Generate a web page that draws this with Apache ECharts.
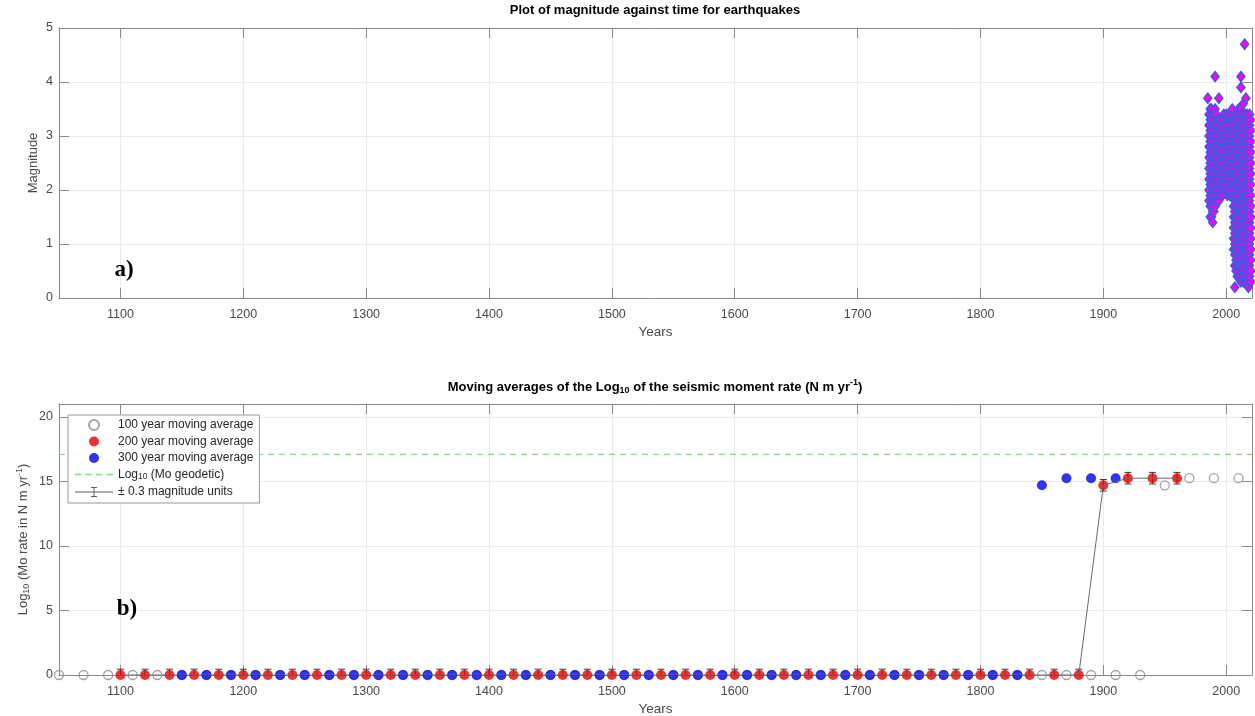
<!DOCTYPE html>
<html>
<head>
<meta charset="utf-8">
<script src="https://cdn.jsdelivr.net/npm/echarts@6/dist/echarts.min.js"></script>
<style>
  html, body { margin: 0; padding: 0; background: #ffffff; }
  #chart { width: 1255px; height: 716px; }
</style>
</head>
<body>
<div id="chart"></div>
<script>
// ---- Earthquake catalogue: magnitudes recorded in each year ----
const quakeYears = [
  1985, 1986, 1987, 1988, 1989, 1990, 1991, 1992, 1993, 1994, 1995, 1996, 1997, 1998, 1999,
  2000, 2001, 2002, 2003, 2004, 2005, 2006, 2007, 2008, 2009, 2010, 2011, 2012, 2013, 2014,
  2015, 2016, 2017, 2018, 2019, 2020
];
const quakeMags = [
  [3.7],
  [1.8, 2.0, 2.2, 2.4, 2.6, 2.8, 3.0, 3.2, 3.4],
  [1.5, 1.7, 1.9, 2.1, 2.3, 2.5, 2.7, 2.9, 3.1, 3.3, 3.5],
  [1.5, 1.7, 1.9, 2.1, 2.3, 2.5, 2.7, 2.9, 3.1, 3.3, 3.5],
  [1.4, 1.6, 1.8, 2.0, 2.2, 2.4, 2.6, 2.8, 3.0, 3.2, 3.4],
  [1.6, 1.8, 2.0, 2.2, 2.4, 2.6, 2.8, 3.0, 3.2, 3.4],
  [1.7, 1.9, 2.1, 2.3, 2.5, 2.7, 2.9, 3.1, 3.3, 3.5, 4.1],
  [1.8, 2.0, 2.2, 2.4, 2.6, 2.8, 3.0, 3.2, 3.4],
  [1.9, 2.1, 2.3, 2.5, 2.7, 2.9, 3.1, 3.3],
  [1.8, 2.0, 2.2, 2.4, 2.6, 2.8, 3.0, 3.2, 3.7],
  [1.9, 2.1, 2.3, 2.5, 2.7, 2.9, 3.1, 3.3],
  [2.0, 2.2, 2.4, 2.6, 2.8, 3.0, 3.2],
  [1.9, 2.1, 2.3, 2.5, 2.7, 2.9, 3.1, 3.3],
  [2.0, 2.2, 2.4, 2.6, 2.8, 3.0, 3.2, 3.4],
  [2.1, 2.3, 2.5, 2.7, 2.9, 3.1, 3.3],
  [2.0, 2.2, 2.4, 2.6, 2.8, 3.0, 3.2, 3.4],
  [1.9, 2.1, 2.3, 2.5, 2.7, 2.9, 3.1, 3.3],
  [2.0, 2.2, 2.4, 2.6, 2.8, 3.0, 3.2, 3.4],
  [1.9, 2.1, 2.3, 2.5, 2.7, 2.9, 3.1, 3.3],
  [2.0, 2.2, 2.4, 2.6, 2.8, 3.0, 3.2, 3.4],
  [1.9, 2.1, 2.3, 2.5, 2.7, 2.9, 3.1, 3.3, 3.5],
  [0.9, 1.1, 1.3, 1.5, 1.7, 1.9, 2.1, 2.3, 2.5, 2.7, 2.9, 3.1, 3.3],
  [0.2, 0.6, 0.8, 1.0, 1.2, 1.4, 1.6, 1.8, 2.0, 2.2, 2.4, 2.6, 2.8, 3.0, 3.2, 3.4],
  [0.5, 0.7, 0.9, 1.1, 1.3, 1.5, 1.7, 1.9, 2.1, 2.3, 2.5, 2.7, 2.9, 3.1, 3.3],
  [0.4, 0.6, 0.8, 1.0, 1.2, 1.4, 1.6, 1.8, 2.0, 2.2, 2.4, 2.6, 2.8, 3.0, 3.2, 3.4],
  [0.5, 0.7, 0.9, 1.1, 1.3, 1.5, 1.7, 1.9, 2.1, 2.3, 2.5, 2.7, 2.9, 3.1, 3.3, 3.5],
  [0.4, 0.6, 0.8, 1.0, 1.2, 1.4, 1.6, 1.8, 2.0, 2.2, 2.4, 2.6, 2.8, 3.0, 3.2, 3.4],
  [0.3, 0.5, 0.7, 0.9, 1.1, 1.3, 1.5, 1.7, 1.9, 2.1, 2.3, 2.5, 2.7, 2.9, 3.1, 3.3, 3.5, 3.9, 4.1],
  [0.4, 0.6, 0.8, 1.0, 1.2, 1.4, 1.6, 1.8, 2.0, 2.2, 2.4, 2.6, 2.8, 3.0, 3.2, 3.4],
  [0.3, 0.5, 0.7, 0.9, 1.1, 1.3, 1.5, 1.7, 1.9, 2.1, 2.3, 2.5, 2.7, 2.9, 3.1, 3.3, 3.6],
  [0.4, 0.6, 0.8, 1.0, 1.2, 1.4, 1.6, 1.8, 2.0, 2.2, 2.4, 2.6, 2.8, 3.0, 3.2, 3.4, 4.7],
  [0.3, 0.5, 0.7, 0.9, 1.1, 1.3, 1.5, 1.7, 1.9, 2.1, 2.3, 2.5, 2.7, 2.9, 3.1, 3.3, 3.7],
  [0.4, 0.6, 0.8, 1.0, 1.2, 1.4, 1.6, 1.8, 2.0, 2.2, 2.4, 2.6, 2.8, 3.0, 3.2, 3.4],
  [0.2, 0.3, 0.5, 0.7, 0.9, 1.1, 1.3, 1.5, 1.7, 1.9, 2.1, 2.3, 2.5, 2.7, 2.9, 3.1, 3.3],
  [0.4, 0.6, 0.8, 1.0, 1.2, 1.4, 1.6, 1.8, 2.0, 2.2, 2.4, 2.6, 2.8, 3.0, 3.2, 3.4],
  [0.3, 0.5, 0.7, 0.9, 1.1, 1.3, 1.5, 1.7, 1.9, 2.1, 2.3, 2.5, 2.7, 2.9, 3.1, 3.3]
];

// ---- Moving averages of log10 seismic moment rate (N m / yr) ----
const avg100Years = [
  1050, 1070, 1090, 1110, 1130, 1150, 1170, 1190, 1210, 1230, 1250, 1270, 1290, 1310, 1330,
  1350, 1370, 1390, 1410, 1430, 1450, 1470, 1490, 1510, 1530, 1550, 1570, 1590, 1610, 1630,
  1650, 1670, 1690, 1710, 1730, 1750, 1770, 1790, 1810, 1830, 1850, 1870, 1890, 1910, 1930,
  1950, 1970, 1990, 2010
];
const avg100Values = [
  0, 0, 0, 0, 0, 0, 0, 0, 0, 0, 0, 0, 0, 0, 0,
  0, 0, 0, 0, 0, 0, 0, 0, 0, 0, 0, 0, 0, 0, 0,
  0, 0, 0, 0, 0, 0, 0, 0, 0, 0, 0, 0, 0, 0, 0,
  14.7, 15.25, 15.25, 15.25
];
const avg200Years = [
  1100, 1120, 1140, 1160, 1180, 1200, 1220, 1240, 1260, 1280, 1300, 1320, 1340, 1360, 1380,
  1400, 1420, 1440, 1460, 1480, 1500, 1520, 1540, 1560, 1580, 1600, 1620, 1640, 1660, 1680,
  1700, 1720, 1740, 1760, 1780, 1800, 1820, 1840, 1860, 1880, 1900, 1920, 1940, 1960
];
const avg200Values = [
  0, 0, 0, 0, 0, 0, 0, 0, 0, 0, 0, 0, 0, 0, 0,
  0, 0, 0, 0, 0, 0, 0, 0, 0, 0, 0, 0, 0, 0, 0,
  0, 0, 0, 0, 0, 0, 0, 0, 0, 0, 14.7, 15.25, 15.25, 15.25
];
const avg300Years = [
  1150, 1170, 1190, 1210, 1230, 1250, 1270, 1290, 1310, 1330, 1350, 1370, 1390, 1410, 1430,
  1450, 1470, 1490, 1510, 1530, 1550, 1570, 1590, 1610, 1630, 1650, 1670, 1690, 1710, 1730,
  1750, 1770, 1790, 1810, 1830, 1850, 1870, 1890, 1910
];
const avg300Values = [
  0, 0, 0, 0, 0, 0, 0, 0, 0, 0, 0, 0, 0, 0, 0,
  0, 0, 0, 0, 0, 0, 0, 0, 0, 0, 0, 0, 0, 0, 0,
  0, 0, 0, 0, 0, 14.7, 15.25, 15.25, 15.25
];
const geodeticRate = 17.1;          // log10 of geodetic moment rate
const errHalf = 1.5 * 0.3;          // ±0.3 magnitude units expressed in log10 moment

// ---- Axis extents ----
const xMin = 1050, xMax = 2021;

const FONT = '"Liberation Sans", Arial, Helvetica, sans-serif';
const axisGrey = '#8a8a8a';
const labelGrey = '#4a4a4a';
const gridGrey = '#ebebeb';

const quakeData = [];
quakeYears.forEach((yr, i) => quakeMags[i].forEach(m => quakeData.push([yr, m])));
const pairs = (xs, ys) => xs.map((x, i) => [x, ys[i]]);

const chart = echarts.init(document.getElementById('chart'), null, { renderer: 'canvas' });

const subRich = {
  t: { fontSize: 12, fontFamily: FONT, color: '#262626', lineHeight: 14 },
  s: { fontSize: 8.5, fontFamily: FONT, color: '#262626', verticalAlign: 'bottom', lineHeight: 8 }
};

function xAxisFor(gridIndex, position, main) {
  const ax = {
    type: 'value', gridIndex, position, min: xMin, max: xMax,
    splitNumber: 10, minInterval: 100, maxInterval: 100,
    axisLine: { show: true, onZero: false, lineStyle: { color: axisGrey, width: 1 } },
    axisTick: { show: true, inside: true, length: 10, lineStyle: { color: axisGrey } },
    splitLine: { show: false },
    axisLabel: { show: false }
  };
  if (main) {
    ax.axisLabel = { show: true, color: labelGrey, fontSize: 12.5, fontFamily: FONT, margin: 10,
                     showMinLabel: false, showMaxLabel: false, formatter: v => String(v) };
    ax.splitLine = { show: true, lineStyle: { color: gridGrey, width: 1 } };
    ax.name = 'Years';
    ax.nameLocation = 'middle';
    ax.nameGap = 27;
    ax.nameMoveOverlap = false;
    ax.nameTextStyle = { fontSize: 13.5, color: labelGrey, fontFamily: FONT };
  }
  return ax;
}

function yAxisFor(gridIndex, position, min, max, interval, main, name, nameGap, rich) {
  const ax = {
    type: 'value', gridIndex, position, min, max, interval,
    axisLine: { show: true, onZero: false, lineStyle: { color: axisGrey, width: 1 } },
    axisTick: { show: true, inside: true, length: 10, lineStyle: { color: axisGrey } },
    splitLine: { show: false },
    axisLabel: { show: false }
  };
  if (main) {
    ax.axisLabel = { show: true, color: labelGrey, fontSize: 12.5, fontFamily: FONT, margin: 6,
                     showMaxLabel: max % interval === 0 };
    ax.splitLine = { show: true, lineStyle: { color: gridGrey, width: 1 } };
    ax.name = name;
    ax.nameLocation = 'middle';
    ax.nameGap = nameGap;
    ax.nameMoveOverlap = false;
    ax.nameTextStyle = { fontSize: 13, color: labelGrey, fontFamily: FONT, rich: rich || {} };
  }
  return ax;
}

const yNameRich = {
  n: { fontSize: 13, color: labelGrey, fontFamily: FONT, lineHeight: 16 },
  sb: { fontSize: 9, color: labelGrey, fontFamily: FONT, verticalAlign: 'bottom', lineHeight: 9 },
  sp: { fontSize: 9, color: labelGrey, fontFamily: FONT, verticalAlign: 'top', lineHeight: 9 }
};

const titleRich = {
  b: { fontSize: 13, fontWeight: 'bold', fontFamily: FONT, color: '#262626', lineHeight: 17 },
  sb: { fontSize: 9, fontWeight: 'bold', fontFamily: FONT, color: '#262626', verticalAlign: 'bottom', lineHeight: 9 },
  sp: { fontSize: 9, fontWeight: 'bold', fontFamily: FONT, color: '#262626', verticalAlign: 'top', lineHeight: 9 }
};

const legendLabels = {
  'Log10 (Mo geodetic)': '{t|Log}{s|10}{t| (Mo geodetic)}'
};

const geodeticColor = '#72e872';

const option = {
  animation: false,
  backgroundColor: '#ffffff',
  grid: [
    { left: 59, top: 28, width: 1193, height: 270, outerBoundsMode: 'none', containLabel: false },
    { left: 59, top: 404, width: 1193, height: 271, outerBoundsMode: 'none', containLabel: false }
  ],
  xAxis: [
    xAxisFor(0, 'bottom', true),
    xAxisFor(0, 'top', false),
    xAxisFor(1, 'bottom', true),
    xAxisFor(1, 'top', false)
  ],
  yAxis: [
    yAxisFor(0, 'left', 0, 5, 1, true, 'Magnitude', 19),
    yAxisFor(0, 'right', 0, 5, 1, false),
    yAxisFor(1, 'left', 0, 21, 5, true,
      '{n|Log}{sb|10}{n| (Mo rate in N m yr}{sp|-1}{n|)}', 28, yNameRich),
    yAxisFor(1, 'right', 0, 21, 5, false)
  ],
  legend: {
    left: 68, top: 415, orient: 'vertical',
    selectedMode: false,
    backgroundColor: '#ffffff', borderColor: '#9a9a9a', borderWidth: 1, borderRadius: 0,
    padding: [4, 6, 5, 7],
    itemWidth: 38, itemHeight: 10, itemGap: 4.5,
    textStyle: { fontSize: 12, fontFamily: FONT, color: '#262626', rich: subRich },
    formatter: name => legendLabels[name] || ('{t|' + name + '}'),
    data: [
      '100 year moving average',
      '200 year moving average',
      '300 year moving average',
      { name: 'Log10 (Mo geodetic)',
        icon: 'path://M0,4.3h6v1.4h-6z M10.5,4.3h6v1.4h-6z M21,4.3h6v1.4h-6z M31.5,4.3h6.5v1.4h-6.5z M0,0h0.01v10h-0.01z M37.99,0h0.01v10h-0.01z',
        itemStyle: { color: geodeticColor, borderWidth: 0 } },
      { name: '± 0.3 magnitude units',
        icon: 'path://M0,4.5h38v1h-38z M16,0h6v1h-6z M18.5,0h1v10h-1z M16,9h6v1h-6z',
        itemStyle: { color: '#606060', borderWidth: 0 } }
    ]
  },
  series: [
    {
      name: 'Earthquakes', type: 'scatter', xAxisIndex: 0, yAxisIndex: 0,
      data: quakeData, symbol: 'diamond', symbolSize: [8, 10], silent: true,
      itemStyle: { color: '#ff00ff', borderColor: '#4656dc', borderWidth: 1.5, opacity: 1 }
    },
    {
      name: '100 year moving average', type: 'scatter', xAxisIndex: 2, yAxisIndex: 2,
      data: pairs(avg100Years, avg100Values), symbol: 'circle', symbolSize: 9, silent: true,
      itemStyle: { color: 'rgba(255,255,255,0)', borderColor: '#8c8c8c', borderWidth: 1.3 }
    },
    {
      name: '200 year moving average', type: 'scatter', xAxisIndex: 2, yAxisIndex: 2,
      data: pairs(avg200Years, avg200Values), symbol: 'circle', symbolSize: 10, silent: true,
      itemStyle: { color: '#e60000', borderColor: '#e60000', borderWidth: 0 }
    },
    {
      name: 'Log10 (Mo geodetic)', type: 'line', xAxisIndex: 2, yAxisIndex: 2,
      data: [[xMin, geodeticRate], [xMax, geodeticRate]], symbol: 'none', silent: true,
      color: geodeticColor,
      lineStyle: { color: geodeticColor, width: 1.3, type: [6, 5] }
    },
    {
      name: '± 0.3 magnitude units', type: 'line', xAxisIndex: 2, yAxisIndex: 2,
      data: pairs(avg200Years, avg200Values), symbol: 'none', silent: true,
      color: '#606060',
      lineStyle: { color: '#6a6a6a', width: 1 }
    },
    {
      name: 'error bars', type: 'custom', xAxisIndex: 2, yAxisIndex: 2, silent: true,
      data: pairs(avg200Years, avg200Values),
      renderItem: function (params, api) {
        const x = api.value(0), v = api.value(1);
        const lo = Math.max(v - errHalf, 0);
        const top = api.coord([x, v + errHalf]);
        const bot = api.coord([x, lo]);
        const w = 3.5;
        const st = { stroke: '#3a3a3a', lineWidth: 1 };
        const kids = [
          { type: 'line', shape: { x1: top[0], y1: top[1], x2: bot[0], y2: bot[1] }, style: st },
          { type: 'line', shape: { x1: top[0] - w, y1: top[1], x2: top[0] + w, y2: top[1] }, style: st }
        ];
        if (v - errHalf >= 0) {
          kids.push({ type: 'line', shape: { x1: bot[0] - w, y1: bot[1], x2: bot[0] + w, y2: bot[1] }, style: st });
        }
        return { type: 'group', children: kids };
      }
    },
    {
      name: '300 year moving average', type: 'scatter', xAxisIndex: 2, yAxisIndex: 2,
      data: pairs(avg300Years, avg300Values), symbol: 'circle', symbolSize: 10, silent: true,
      itemStyle: { color: '#0000f0', borderColor: '#0000f0', borderWidth: 0 }
    }
  ],
  graphic: [
    {
      type: 'text', silent: true, z: 100,
      style: {
        x: 655, y: 10, align: 'center', verticalAlign: 'middle',
        text: '{b|Plot of magnitude against time for earthquakes}', rich: titleRich
      }
    },
    {
      type: 'text', silent: true, z: 100,
      style: {
        x: 655, y: 387, align: 'center', verticalAlign: 'middle',
        text: '{b|Moving averages of the Log}{sb|10}{b| of the seismic moment rate (N m yr}{sp|-1}{b|)}',
        rich: titleRich
      }
    },
    {
      type: 'text', silent: true, z: 100,
      style: { x: 124, y: 270, align: 'center', verticalAlign: 'middle', text: 'a)',
               font: 'bold 23px "Liberation Serif", "Times New Roman", serif', fill: '#000000' }
    },
    {
      type: 'text', silent: true, z: 100,
      style: { x: 127, y: 609, align: 'center', verticalAlign: 'middle', text: 'b)',
               font: 'bold 23px "Liberation Serif", "Times New Roman", serif', fill: '#000000' }
    }
  ]
};

chart.setOption(option);
</script>
</body>
</html>
